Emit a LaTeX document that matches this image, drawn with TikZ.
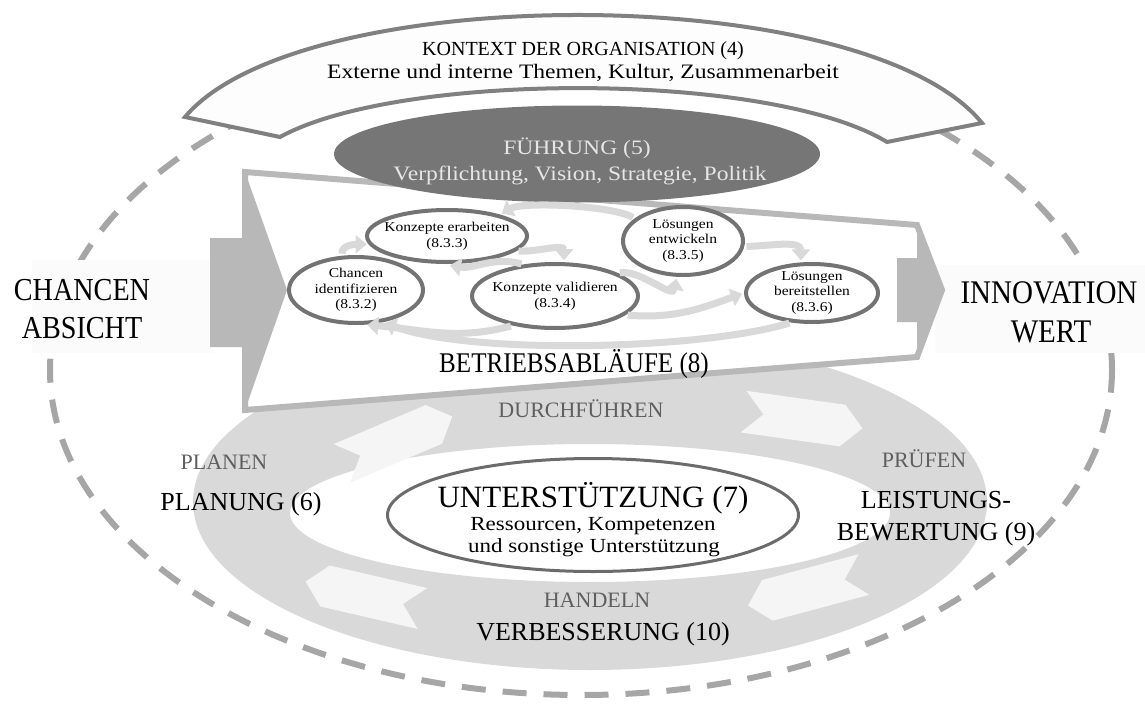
\documentclass[tikz,border=0pt]{standalone}
\usepackage{fontspec}
\setmainfont{Liberation Serif}
\newfontfamily\widefont{Liberation Serif}[FakeStretch=1.15]
\newfontfamily\slimfont{Liberation Serif}[FakeStretch=0.88]
\usetikzlibrary{arrows.meta,shapes.geometric,positioning}

\definecolor{dashgray}{HTML}{A6A6A6}
\definecolor{boxfill}{HTML}{FBFBFB}
\definecolor{bannergray}{HTML}{808080}
\definecolor{bannerfill}{HTML}{FDFDFD}
\definecolor{leadgray}{HTML}{767676}
\definecolor{leadtext}{HTML}{E6E6E6}
\definecolor{opgray}{HTML}{B8B8B8}
\definecolor{subgray}{HTML}{737373}
\definecolor{flowgray}{HTML}{D9D9D9}
\definecolor{ringgray}{HTML}{D9D9D9}
\definecolor{chevfill}{HTML}{F5F5F5}
\definecolor{phasegray}{HTML}{5F5F5F}
\definecolor{suppgray}{HTML}{6B6B6B}

\newcommand{\fsz}[1]{\fontsize{#1}{#1}\selectfont}

\tikzset{chevarrow/.pic={
  \fill[chevfill] (-60,-21) -- (40,-21) -- (60,0) -- (40,21) -- (-60,21) -- (-40,0) -- cycle;}}

\begin{document}
\begin{tikzpicture}[x=1pt,y=1pt,
    txt/.style={anchor=base,inner sep=0pt},
    phase/.style={txt,text=phasegray,font=\fsz{22}},
    sub/.style={ellipse,draw=subgray,line width=4pt,fill=white,align=center,
                inner xsep=-8pt,inner ysep=-3pt,font=\widefont\fontsize{13.5}{15.5}\selectfont},
    flow/.style={draw=flowgray,line width=7pt,-{Triangle[length=11pt,width=18pt]},
                 shorten <=2pt,shorten >=2pt},
    lead/.style={ellipse,fill=leadgray,inner sep=0pt,minimum width=486,minimum height=97},
    support/.style={ellipse,draw=suppgray,line width=3pt,fill=white,inner sep=0pt,
                    minimum width=411,minimum height=113}]
  \useasboundingbox (0,0) rectangle (1145,-704);

  % dashed frame and the two outer labels
  \draw[dashgray,line width=6pt,dash pattern=on 24pt off 17pt]
    (581,-370) ellipse [x radius=531,y radius=325];
  \fill[boxfill] (32,-260) rectangle (213,-353);
  \fill[boxfill] (935,-265) rectangle (1145,-353);

  % context banner
  \draw[bannergray,line width=4pt,fill=bannerfill,line join=miter]
    (185,-117) .. controls (300,20) and (866,20) .. (982,-123) -- (887,-142)
    .. controls (770,-71) and (400,-71) .. (280,-137) -- cycle;

  % PDCA ring
  \fill[ringgray,even odd rule] (590,-502) ellipse [x radius=397,y radius=168]
    (590,-513) ellipse [x radius=300,y radius=69];
  \pic[rotate=23] at (397,-440) {chevarrow};
  \pic[rotate=-8] at (803,-420) {chevarrow};
  \pic[rotate=195] at (806,-590) {chevarrow};
  \pic[rotate=167] at (364,-595) {chevarrow};

  % operations arrow
  \draw[opgray,fill=white,line width=6pt,line join=miter]
    (245,-172) -- (917,-225) -- (942,-290) -- (917,-357) -- (245,-410) -- cycle;
  \fill[opgray] (210,-238) -- (245,-238) -- (245,-172) -- (287,-290) -- (245,-410)
    -- (245,-347) -- (210,-347) -- cycle;
  \fill[opgray] (897,-258) -- (917,-258) -- (917,-225) -- (942,-290) -- (917,-357)
    -- (917,-322) -- (897,-322) -- cycle;

  % leadership
  \node[lead] (lead) at (577,-154) {};

  % innovation processes
  \node[sub,minimum width=134,minimum height=66] (chid) at (356,-290) {Chancen\\identifizieren\\(8.3.2)};
  \node[sub,minimum width=160,minimum height=52] (koer) at (447,-236) {Konzepte erarbeiten\\(8.3.3)};
  \node[sub,minimum width=166,minimum height=64] (kova) at (555,-296) {Konzepte validieren\\(8.3.4)};
  \node[sub,minimum width=120,minimum height=68] (loen) at (683,-241) {Lösungen\\entwickeln\\(8.3.5)};
  \node[sub,minimum width=132,minimum height=58] (lobe) at (812,-293) {Lösungen\\bereitstellen\\(8.3.6)};

  \path (chid.112) edge[flow,out=95,in=180] (koer.186)
        (koer.-12) edge[flow,out=-5,in=90]  (kova.75)
        (kova.135) edge[flow,out=165,in=-10,shorten >=8pt] (koer.-100)
        (loen.155) edge[flow,out=150,in=30,looseness=0.5] (koer.22)
        (kova.20)  edge[flow,out=10,in=-100] (loen.-100)
        (loen.-5)  edge[flow,out=0,in=90]    (lobe.110)
        (kova.-15) edge[flow,out=-5,in=200]  (lobe.180)
        (kova.-145) edge[flow,out=195,in=-5] (chid.-75);
  \draw[flow] (lobe.-125) .. controls (700,-350) and (470,-355) .. (chid.-50);

  % support
  \node[support] (supp) at (593,-515) {};

  % texts
  \node[txt,font=\fsz{20}] (ctx) at (583,-55) {KONTEXT DER ORGANISATION (4)};
  \node[txt,font=\widefont\fsz{20.5}] (ctxsub) at (583,-78) {Externe und interne Themen, Kultur, Zusammenarbeit};
  \node[txt,text=leadtext,font=\widefont\fsz{20.5}] (leadtitle) at (577,-154) {FÜHRUNG (5)};
  \node[txt,text=leadtext,font=\widefont\fsz{20.5}] (leadsub) at (580,-180) {Verpflichtung, Vision, Strategie, Politik};
  \node[txt,font=\slimfont\fsz{32}] (chance) at (82,-300) {CHANCEN};
  \node[txt,font=\slimfont\fsz{32}] (intent) at (82,-338) {ABSICHT};
  \node[txt,font=\slimfont\fsz{33}] (innov) at (1049,-303) {INNOVATION};
  \node[txt,font=\slimfont\fsz{33}] (value) at (1051,-342) {WERT};
  \node[txt,font=\slimfont\fsz{28.5}] (ops) at (574,-372) {BETRIEBSABLÄUFE (8)};
  \node[phase] (do) at (581,-417) {DURCHFÜHREN};
  \node[phase] (plan) at (224,-469) {PLANEN};
  \node[txt,font=\fsz{26}] (planning) at (241,-510) {PLANUNG (6)};
  \node[phase] (check) at (924,-467) {PRÜFEN};
  \node[txt,font=\fsz{26}] (perf1) at (936,-508) {LEISTUNGS-};
  \node[txt,font=\fsz{26}] (perf2) at (936,-540) {BEWERTUNG (9)};
  \node[txt,font=\fsz{31}] (supptitle) at (593,-507) {UNTERSTÜTZUNG (7)};
  \node[txt,font=\widefont\fsz{20}] (supp1) at (593,-530) {Ressourcen, Kompetenzen};
  \node[txt,font=\widefont\fsz{20}] (supp2) at (594,-552) {und sonstige Unterstützung};
  \node[phase] (act) at (597,-607) {HANDELN};
  \node[txt,font=\fsz{26}] (improve) at (603,-640) {VERBESSERUNG (10)};
\end{tikzpicture}
\end{document}
